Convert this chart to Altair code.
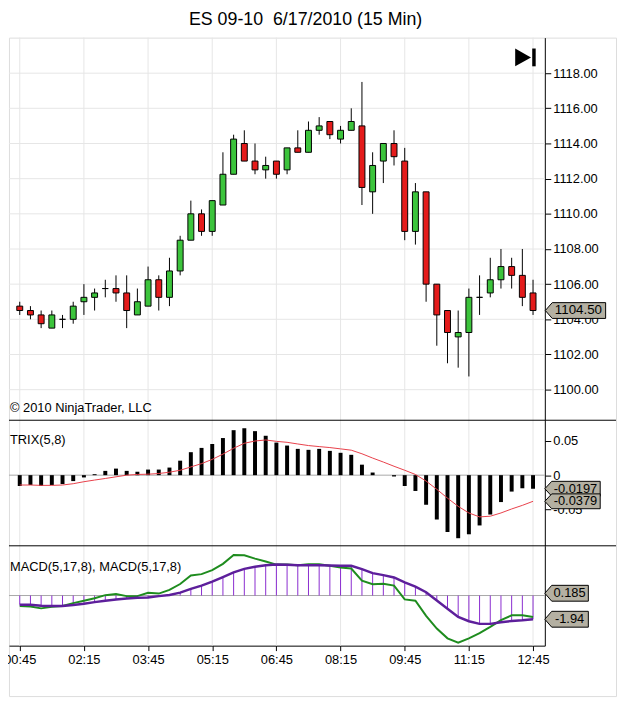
import altair as alt
import pandas as pd

# ---------------- data ----------------
time_labels = ["00:45", "02:15", "03:45", "05:15", "06:45", "08:15", "09:45", "11:15", "12:45"]
time_ticks = [0, 6, 12, 18, 24, 30, 36, 42, 48]
price_ticks = [1100, 1102, 1104, 1106, 1108, 1110, 1112, 1114, 1116, 1118]
trix_ticks = [-0.05, 0, 0.05]

opens = [1104.75, 1104.50, 1104.25, 1103.50, 1104.00, 1104.00, 1105.00, 1105.25, 1105.75, 1105.75,
         1105.50, 1104.25, 1104.75, 1106.25, 1105.25, 1106.75, 1108.50, 1110.00, 1109.00, 1110.50,
         1112.25, 1114.00, 1113.00, 1112.50, 1113.00, 1112.50, 1113.75, 1113.50, 1114.75, 1115.25,
         1114.25, 1114.75, 1115.00, 1111.25, 1113.00, 1114.00, 1113.00, 1109.00, 1111.25, 1106.00,
         1104.50, 1103.00, 1103.25, 1105.25, 1105.50, 1106.25, 1107.00, 1106.50, 1105.50]
highs = [1105.00, 1104.75, 1104.50, 1104.50, 1104.25, 1105.00, 1106.00, 1105.75, 1106.25, 1106.50,
         1106.50, 1105.75, 1107.00, 1106.50, 1107.50, 1108.75, 1110.75, 1110.25, 1110.75, 1113.50,
         1114.50, 1114.75, 1114.00, 1113.25, 1113.00, 1113.75, 1114.75, 1115.25, 1115.50, 1115.25,
         1115.00, 1116.00, 1117.50, 1113.50, 1114.00, 1114.75, 1113.75, 1111.75, 1111.25, 1106.00,
         1104.50, 1104.50, 1105.75, 1106.50, 1107.50, 1108.00, 1107.50, 1108.00, 1106.25]
lows = [1104.25, 1104.00, 1103.50, 1103.50, 1103.50, 1103.75, 1104.25, 1104.50, 1105.25, 1105.00,
        1103.50, 1104.25, 1104.75, 1104.50, 1104.75, 1106.50, 1108.50, 1108.75, 1108.75, 1110.50,
        1112.25, 1113.00, 1112.25, 1112.00, 1112.00, 1112.25, 1113.50, 1113.50, 1114.50, 1114.25,
        1114.00, 1114.75, 1110.50, 1110.00, 1111.75, 1112.75, 1108.50, 1108.25, 1105.00, 1102.50,
        1101.50, 1101.25, 1100.75, 1104.25, 1105.25, 1105.75, 1105.75, 1104.75, 1104.25]
closes = [1104.50, 1104.25, 1103.75, 1104.25, 1104.00, 1104.75, 1105.25, 1105.50, 1105.75, 1105.50,
          1104.50, 1105.00, 1106.25, 1105.25, 1106.75, 1108.50, 1110.00, 1109.00, 1110.75, 1112.25,
          1114.25, 1113.00, 1112.50, 1112.75, 1112.25, 1113.75, 1113.50, 1114.75, 1115.00, 1114.50,
          1114.75, 1115.25, 1111.50, 1112.75, 1114.00, 1113.25, 1109.00, 1111.25, 1106.00, 1104.25,
          1103.25, 1103.25, 1105.25, 1105.25, 1106.25, 1107.00, 1106.50, 1105.25, 1104.50]

trix = [-0.0157, -0.0143, -0.0157, -0.0143, -0.0129, -0.0086, -0.0033, 0.0014, 0.0062, 0.0095,
        0.0062, 0.0048, 0.0081, 0.0081, 0.0110, 0.0210, 0.0333, 0.0395, 0.0452, 0.0538,
        0.0652, 0.0680, 0.0638, 0.0571, 0.0472, 0.0429, 0.0381, 0.0367, 0.0381, 0.0352,
        0.0324, 0.0295, 0.0152, 0.0038, 0.0000, -0.0019, -0.0157, -0.0229, -0.0429, -0.0643,
        -0.0824, -0.0914, -0.0857, -0.0729, -0.0571, -0.0390, -0.0238, -0.0190, -0.0197]
trix_signal = [-0.0143, -0.0143, -0.0148, -0.0148, -0.0143, -0.0124, -0.0095, -0.0071, -0.0048, -0.0024,
               0.0000, 0.0010, 0.0014, 0.0024, 0.0043, 0.0071, 0.0119, 0.0167, 0.0229, 0.0305,
               0.0390, 0.0462, 0.0495, 0.0510, 0.0490, 0.0476, 0.0452, 0.0429, 0.0414, 0.0400,
               0.0381, 0.0362, 0.0310, 0.0248, 0.0190, 0.0129, 0.0071, 0.0010, -0.0086, -0.0205,
               -0.0333, -0.0452, -0.0548, -0.0605, -0.0595, -0.0548, -0.0490, -0.0438, -0.0379]

macd = [-0.86, -0.89, -1.05, -0.92, -0.86, -0.62, -0.43, -0.22, 0.03, 0.13,
        -0.05, -0.05, 0.22, 0.16, 0.46, 0.94, 1.64, 1.75, 2.08, 2.59,
        3.32, 3.29, 3.02, 2.78, 2.53, 2.53, 2.48, 2.56, 2.56, 2.43,
        2.29, 2.21, 1.21, 0.92, 0.97, 0.81, -0.32, -0.43, -1.67, -2.70,
        -3.50, -3.85, -3.50, -3.07, -2.56, -2.02, -1.62, -1.62, -1.755]
macd_avg = [-0.75, -0.75, -0.84, -0.86, -0.86, -0.78, -0.67, -0.54, -0.43, -0.32,
            -0.24, -0.19, -0.16, -0.05, 0.05, 0.24, 0.54, 0.81, 1.13, 1.51,
            1.89, 2.18, 2.35, 2.48, 2.53, 2.51, 2.48, 2.48, 2.48, 2.45,
            2.43, 2.43, 2.16, 1.83, 1.67, 1.48, 1.08, 0.73, 0.27, -0.40,
            -1.08, -1.75, -2.10, -2.32, -2.32, -2.18, -2.08, -2.02, -1.94]

# ---------------- tables ----------------
n = len(opens)
df = pd.DataFrame({
    "i": list(range(n)), "open": opens, "high": highs, "low": lows, "close": closes,
    "trix": trix, "signal": trix_signal, "macd": macd, "avg": macd_avg, "zero": [0.0] * n,
})
df["dir"] = ["down" if c < o else "up" for o, c in zip(opens, closes)]

diff_last = macd[-1] - macd_avg[-1]
price_tag = pd.DataFrame({"v": [closes[-1]], "label": [f"{closes[-1]:.2f}"]})
trix_tags = pd.DataFrame({"v": [trix[-1], trix_signal[-1]],
                          "label": [f"{trix[-1]:.3g}", f"{trix_signal[-1]:.3g}"]})
macd_tags = pd.DataFrame({"v": [diff_last, macd_avg[-1]],
                          "label": [f"{diff_last:.3g}", f"{macd_avg[-1]:.3g}"]})
one = pd.DataFrame({"k": [0]})

# ---------------- layout / style ----------------
FONT = "Liberation Sans"
W, H = 614, 666
PW = 542                 # plot (data) width
AX_OFF = PW - W          # pulls right-hand axes onto the data edge
P_BOT, T_BOT, M_BOT = 387, 514, 615
GREEN, RED = "#3cc43c", "#e41b1b"
GRID = "#e6e6e6"
ZERO = "#a8a8a8"
TAG = "#b4b0a2"
LBL = 13

xscale = alt.Scale(domain=[-0.544, 48.64], range=[0, PW], nice=False, zero=False)
pscale = alt.Scale(domain=[1098.26, 1120.02], range=[P_BOT, 0], nice=False, zero=False)
tscale = alt.Scale(domain=[-0.1024, 0.0796], range=[T_BOT, P_BOT], nice=False, zero=False)
mscale = alt.Scale(domain=[-4.1, 4.066], range=[M_BOT, T_BOT], nice=False, zero=False)

label_expr = "[" + ",".join(f"'{t}'" for t in time_labels) + "][round(datum.value / 6)]"
x_axis = alt.Axis(
    values=time_ticks, labelExpr=label_expr, orient="bottom", offset=-(H - M_BOT),
    grid=False, tickSize=5, tickColor="black", domainColor="black", labelColor="black",
    labelFont=FONT, labelFontSize=LBL, labelPadding=3, title=None)
X = alt.X("i:Q", scale=xscale, axis=x_axis)

vgrid = alt.Chart(pd.DataFrame({"i": time_ticks})).mark_rule(color=GRID).encode(
    x=X, y=alt.value(0), y2=alt.value(M_BOT))

pgrid = alt.Chart(pd.DataFrame({"p": price_ticks})).mark_rule(color=GRID).encode(
    y=alt.Y("p:Q", scale=pscale, axis=None), x=alt.value(0), x2=alt.value(PW))

wick = alt.Chart(df).mark_rule(color="black", strokeWidth=1).encode(
    x=X,
    y=alt.Y("low:Q", scale=pscale, axis=alt.Axis(
        orient="right", offset=AX_OFF, values=price_ticks, format=".2f", grid=False,
        tickSize=6, tickColor="black", domainColor="black", labelColor="black",
        labelFont=FONT, labelFontSize=LBL, labelPadding=2, title=None)),
    y2="high:Q")

body = alt.Chart(df).mark_bar(width=6, stroke="black", strokeWidth=1, opacity=1).encode(
    x=X, y=alt.Y("open:Q", scale=pscale, axis=None), y2="close:Q",
    fill=alt.Fill("dir:N", scale=alt.Scale(domain=["up", "down"], range=[GREEN, RED]), legend=None))

# TRIX panel
tzero = alt.Chart(pd.DataFrame({"z": [0]})).mark_rule(color=ZERO).encode(
    y=alt.Y("z:Q", scale=tscale, axis=alt.Axis(
        orient="right", offset=AX_OFF, values=trix_ticks,
        labelExpr="replace(format(datum.value, '~g'), '\u2212', '-')", grid=False,
        tickSize=6, tickColor="black", domainColor="black", labelColor="black",
        labelFont=FONT, labelFontSize=LBL, labelPadding=2, title=None)),
    x=alt.value(0), x2=alt.value(PW))

tbars = alt.Chart(df).mark_bar(width=4, color="black").encode(
    x=X, y=alt.Y("trix:Q", scale=tscale, axis=None), y2="zero:Q")

tline = alt.Chart(df).mark_line(color="#e8404a", strokeWidth=1).encode(
    x=X, y=alt.Y("signal:Q", scale=tscale, axis=None))

# MACD panel
mzero = alt.Chart(pd.DataFrame({"z": [0]})).mark_rule(color=ZERO).encode(
    y=alt.Y("z:Q", scale=mscale, axis=alt.Axis(
        orient="right", offset=AX_OFF, labels=False, ticks=False, grid=False,
        domainColor="black", title=None)),
    x=alt.value(0), x2=alt.value(PW))

mhist = alt.Chart(df).mark_rule(color="#8a2ccf", strokeWidth=1).encode(
    x=X, y=alt.Y("avg:Q", scale=mscale, axis=None), y2="zero:Q")

mline = alt.Chart(df).mark_line(color="#1e8c1e", strokeWidth=2).encode(
    x=X, y=alt.Y("macd:Q", scale=mscale, axis=None))

aline = alt.Chart(df).mark_line(color="#5d1f9b", strokeWidth=2.5).encode(
    x=X, y=alt.Y("avg:Q", scale=mscale, axis=None))

# dividers between panels
divider1 = alt.Chart(one).mark_rule(color="black").encode(
    y=alt.value(P_BOT), x=alt.value(0), x2=alt.value(W))
divider2 = alt.Chart(one).mark_rule(color="black").encode(
    y=alt.value(T_BOT), x=alt.value(0), x2=alt.value(W))


def text_at(txt, y):
    return alt.Chart(one).mark_text(text=txt, align="left", baseline="middle", font=FONT,
                                   fontSize=13, color="black").encode(
        x=alt.value(1), y=alt.value(y))


copyright_t = text_at("\u00a9 2010 NinjaTrader, LLC", 375)
trix_t = text_at("TRIX(5,8)", 407)
macd_t = text_at("MACD(5,17,8), MACD(5,17,8)", 535)


def tag(data, scale, cx, half_w, half_h, fs):
    a = 7.0 / half_w
    hh = half_h / half_w
    path = f"M -1 0 L {-1 + a:.3f} {-hh:.3f} L 1 {-hh:.3f} L 1 {hh:.3f} L {-1 + a:.3f} {hh:.3f} Z"
    shape = alt.Chart(data).mark_point(shape=path, filled=True, fill=TAG, stroke="black",
                                       strokeWidth=1, size=(2 * half_w) ** 2, opacity=1).encode(
        x=alt.value(cx), y=alt.Y("v:Q", scale=scale, axis=None))
    label = alt.Chart(data).mark_text(align="center", baseline="middle", font=FONT,
                                      fontSize=fs, color="black", dx=3).encode(
        x=alt.value(cx), y=alt.Y("v:Q", scale=scale, axis=None), text="label:N")
    return [shape, label]


ptag = tag(price_tag, pscale, 573, 30.5, 8, 13.5)
ttag = tag(trix_tags, tscale, 570, 28, 7.5, 13)
mtag = tag(macd_tags, mscale, 564, 22, 8, 13)

tri = alt.Chart(one).mark_point(shape="M -0.89 -1 L 0.89 0 L -0.89 1 Z", filled=True,
                                color="black", size=324, opacity=1).encode(
    x=alt.value(520), y=alt.value(20))
endbar = alt.Chart(one).mark_rule(color="black", strokeWidth=3.5).encode(
    x=alt.value(531), y=alt.value(11), y2=alt.value(29))

layers = [vgrid, pgrid, tzero, mzero, mhist, wick, body, tbars, tline, mline, aline,
          divider1, divider2, copyright_t, trix_t, macd_t, tri, endbar] + ptag + ttag + mtag

chart = alt.layer(*layers).resolve_scale(y="independent").properties(
    width=W, height=H,
    title=alt.Title("ES 09-10\u00a0 6/17/2010 (15 Min)", fontSize=18, font=FONT,
                    fontWeight="normal", color="black", anchor="middle", offset=8, dx=-7),
    autosize=alt.AutoSizeParams(type="none"),
    padding={"left": 1, "top": 26, "right": 1, "bottom": 1},
).configure_view(stroke="black", strokeWidth=1).configure(background="white")

chart.save("out.html", embed_options={"renderer": "svg", "actions": False})
